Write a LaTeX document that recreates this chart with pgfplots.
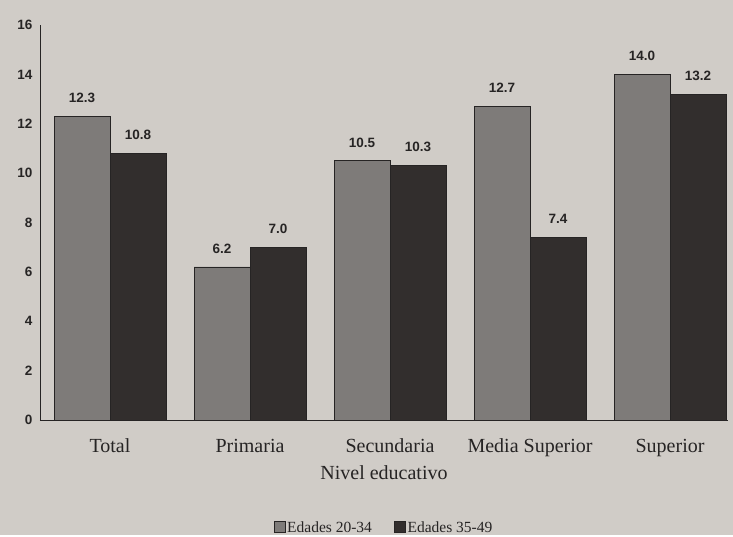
\documentclass[border=0pt]{standalone}
\usepackage{pgfplots}
\pgfplotsset{compat=1.18}
\usepackage{fontspec}
\setmainfont{Liberation Serif}
\newfontfamily\arialb{Liberation Sans}
\newfontfamily\timesr{Liberation Serif}
\definecolor{paper}{RGB}{208,204,199}
\definecolor{lightbar}{RGB}{126,123,121}
\definecolor{darkbar}{RGB}{50,46,45}
\definecolor{ink}{RGB}{38,36,36}
\newcommand{\cat}[1]{{\timesr\fontsize{20}{23}\selectfont #1}}
\begin{document}
\begin{tikzpicture}
\fill[paper] (-40pt,-115pt) rectangle (693pt,420pt);
\begin{axis}[
  at={(0pt,0pt)}, anchor=south west,
  scale only axis, width=688pt, height=395pt,
  ybar=0pt, bar width=0.4,
  xmin=-0.5, xmax=4.414, ymin=0, ymax=16,
  xtick={0,1,2,3,4},
  xticklabels={\cat{Total},\cat{Primaria},\cat{Secundaria},\cat{Media Superior},\cat{Superior}},
  ytick={0,2,...,16},
  axis x line*=bottom, axis y line*=left,
  axis line style={-, ink, line width=0.9pt},
  major tick length=0pt,
  /pgf/number format/assume math mode=true,
  yticklabel style={font=\arialb\bfseries\fontsize{13.5}{15}\selectfont, text=ink, xshift=-4pt},
  xticklabel style={text=ink, anchor=base, yshift=-33pt},
  xlabel={\cat{Nivel educativo}},
  xlabel style={text=ink, at={(axis description cs:0.5,-0.1515)}, anchor=base},
  nodes near coords,
  nodes near coords style={font=\arialb\bfseries\fontsize{13.5}{15}\selectfont, text=ink, yshift=10pt, /pgf/number format/.cd, fixed, fixed zerofill, precision=1},
  legend columns=2,
  legend style={at={(0.5,-0.272)}, anchor=center, draw=none, fill=none, font=\timesr\fontsize{15.5}{17}\selectfont, text=ink, inner sep=1pt, /tikz/every even column/.append style={column sep=20pt}},
  legend image code/.code={\draw[#1, draw=ink] (0pt,-5pt) rectangle (11pt,6pt);},
]
\addplot[fill=lightbar, draw=ink, line width=0.6pt] coordinates {(0,12.3) (1,6.2) (2,10.5) (3,12.7) (4,14.0)};
\addplot[fill=darkbar, draw=ink, line width=0.6pt] coordinates {(0,10.8) (1,7.0) (2,10.3) (3,7.4) (4,13.2)};
\legend{Edades 20-34, Edades 35-49}
\end{axis}
\end{tikzpicture}
\end{document}
